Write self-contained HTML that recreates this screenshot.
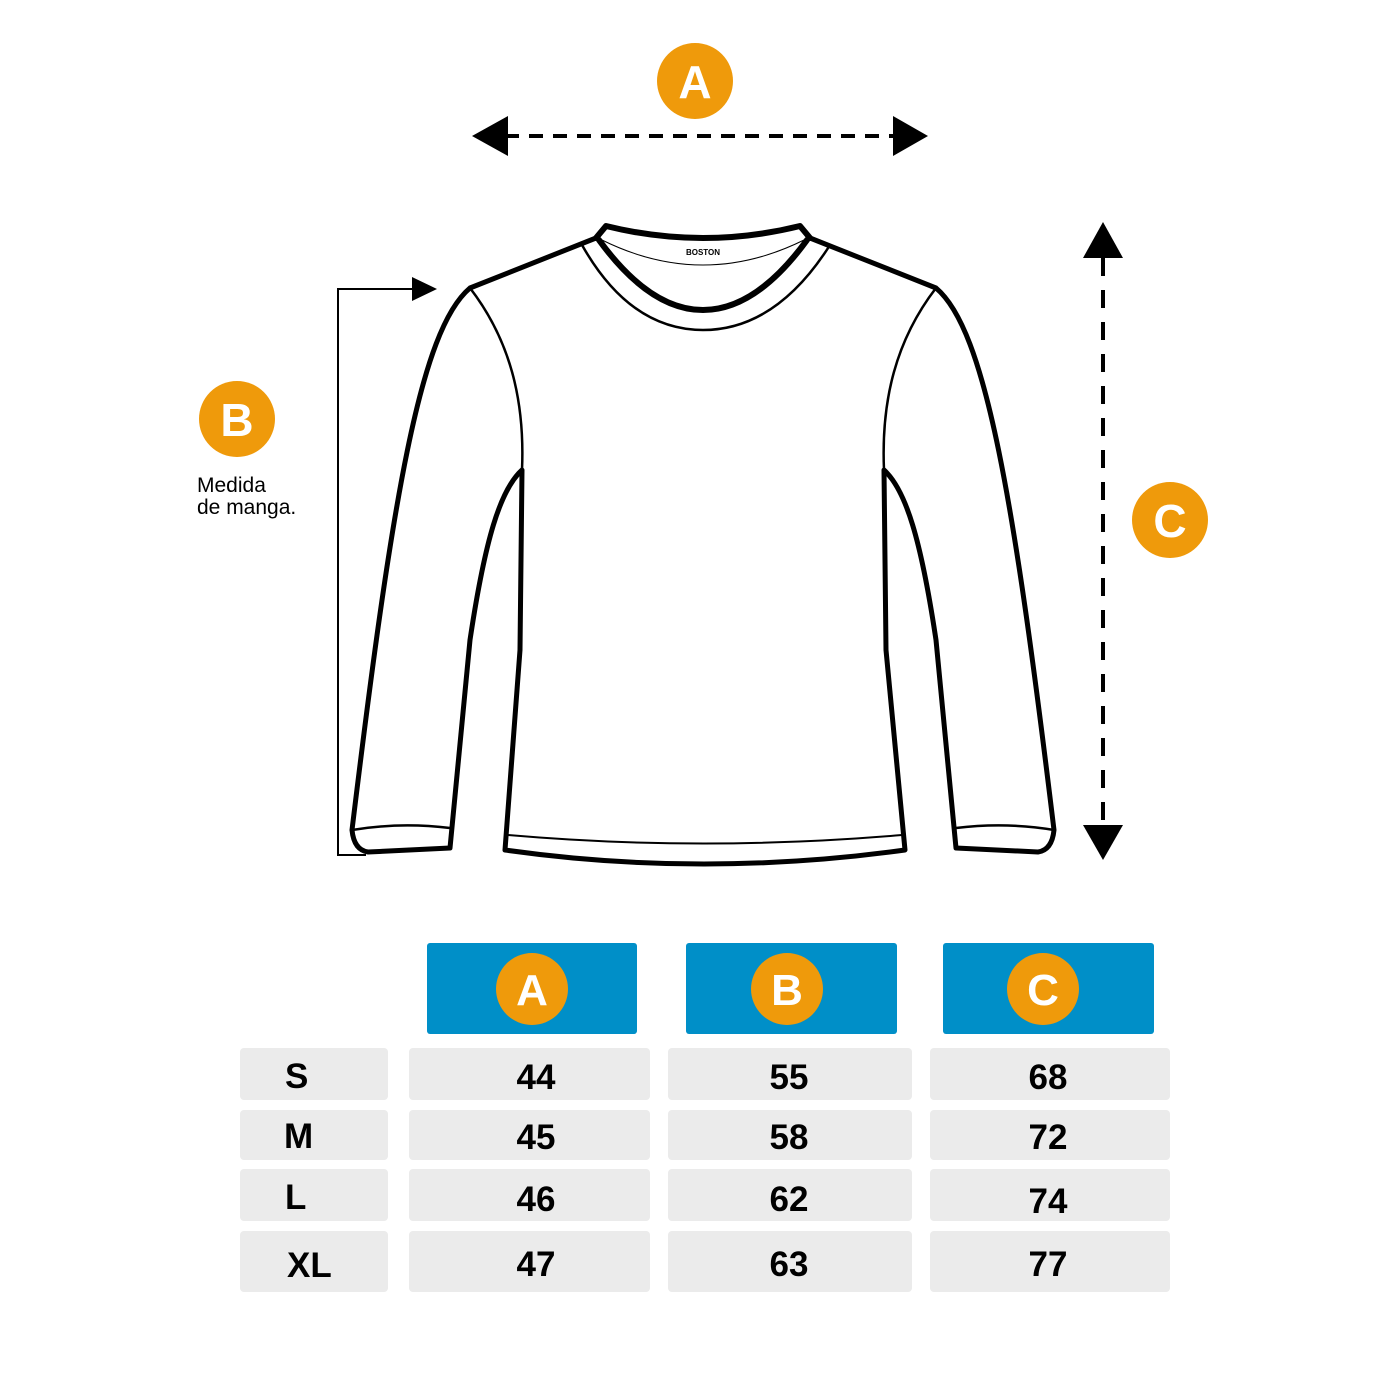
<!DOCTYPE html>
<html><head><meta charset="utf-8"><style>
body{margin:0;background:#fff}
svg{display:block}
text{font-family:"Liberation Sans",sans-serif}
</style></head><body>
<svg width="1389" height="1389" viewBox="0 0 1389 1389">
<rect width="1389" height="1389" fill="#fff"/>
<!-- A arrow -->
<line x1="505" y1="136" x2="895" y2="136" stroke="#000" stroke-width="4" stroke-dasharray="14,10"/>
<polygon points="472,136 508,116 508,156" fill="#000"/>
<polygon points="928,136 893,116 893,156" fill="#000"/>
<!-- C arrow -->
<line x1="1103" y1="258" x2="1103" y2="825" stroke="#000" stroke-width="4" stroke-dasharray="18,14"/>
<polygon points="1103,222 1083,258 1123,258" fill="#000"/>
<polygon points="1103,860 1083,825 1123,825" fill="#000"/>
<!-- B bracket -->
<polyline points="412,289 338,289 338,855 366,855" fill="none" stroke="#000" stroke-width="2"/>
<polygon points="437,289 412,277 412,301" fill="#000"/>
<!-- circles -->
<g font-weight="bold" font-size="46" fill="#fff" text-anchor="middle">
<circle cx="695" cy="81" r="38" fill="#ef9a0b"/><text x="695" y="98">A</text>
<circle cx="237" cy="419" r="38" fill="#ef9a0b"/><text x="237" y="436">B</text>
<circle cx="1170" cy="520" r="38" fill="#ef9a0b"/><text x="1170" y="537">C</text>
</g>
<text x="197" y="492" font-size="21">Medida</text>
<text x="197" y="514" font-size="21">de manga.</text>
<!-- shirt -->
<g fill="none" stroke="#000" stroke-linejoin="round" stroke-linecap="round">
<path d="M596,238 L470,288 C420,330 392,500 352,830 Q354,850 368,852 L450,848 L470,640 C485,540 500,490 522,470 L520,650 L505,850 Q703,878 905,850 L886,650 L884,470 C906,490 921,540 936,640 L956,848 L1038,852 Q1052,850 1054,830 C1014,500 986,330 936,288 L810,238" stroke-width="5"/>
<path d="M596,238 L606,226 Q703,250 800,226 L810,238" stroke-width="6"/>
<path d="M599,240 Q650,310 703,310 Q756,310 807,240" stroke-width="6"/>
<path d="M582,245 Q630,330 703,330 Q776,330 830,245" stroke-width="2.5"/>
<path d="M602,240 Q703,290 804,240" stroke-width="1"/>
<path d="M470,288 C510,340 525,400 522,470" stroke-width="2.5"/>
<path d="M936,288 C896,340 881,400 884,470" stroke-width="2.5"/>
<path d="M352,830 Q400,822 450,828" stroke-width="2.5"/>
<path d="M1054,830 Q1006,822 956,828" stroke-width="2.5"/>
<path d="M508,835 Q703,852 902,835" stroke-width="2"/>
</g>
<text x="703" y="255" font-size="8" font-weight="bold" text-anchor="middle">BOSTON</text>
<!-- table headers -->
<rect x="427" y="943" width="210" height="91" rx="3" fill="#008fc8"/>
<rect x="686" y="943" width="211" height="91" rx="3" fill="#008fc8"/>
<rect x="943" y="943" width="211" height="91" rx="3" fill="#008fc8"/>
<g font-weight="bold" font-size="44" fill="#fff" text-anchor="middle">
<circle cx="532" cy="989" r="36" fill="#ef9a0b"/><text x="532" y="1005">A</text>
<circle cx="787" cy="989" r="36" fill="#ef9a0b"/><text x="787" y="1005">B</text>
<circle cx="1043" cy="989" r="36" fill="#ef9a0b"/><text x="1043" y="1005">C</text>
</g>
<g fill="#ebebeb">
<rect x="240" y="1048" width="148" height="52" rx="4"/><rect x="409" y="1048" width="241" height="52" rx="4"/><rect x="668" y="1048" width="244" height="52" rx="4"/><rect x="930" y="1048" width="240" height="52" rx="4"/>
<rect x="240" y="1110" width="148" height="50" rx="4"/><rect x="409" y="1110" width="241" height="50" rx="4"/><rect x="668" y="1110" width="244" height="50" rx="4"/><rect x="930" y="1110" width="240" height="50" rx="4"/>
<rect x="240" y="1169" width="148" height="52" rx="4"/><rect x="409" y="1169" width="241" height="52" rx="4"/><rect x="668" y="1169" width="244" height="52" rx="4"/><rect x="930" y="1169" width="240" height="52" rx="4"/>
<rect x="240" y="1231" width="148" height="61" rx="4"/><rect x="409" y="1231" width="241" height="61" rx="4"/><rect x="668" y="1231" width="244" height="61" rx="4"/><rect x="930" y="1231" width="240" height="61" rx="4"/>
</g>
<g font-weight="bold" font-size="35" fill="#000">
<text x="285" y="1088">S</text><text x="284" y="1148">M</text><text x="285" y="1209">L</text><text x="287" y="1277">XL</text>
</g>
<g font-weight="bold" font-size="35" fill="#000" text-anchor="middle">
<text x="536" y="1089">44</text><text x="789" y="1089">55</text><text x="1048" y="1089">68</text>
<text x="536" y="1149">45</text><text x="789" y="1149">58</text><text x="1048" y="1149">72</text>
<text x="536" y="1211">46</text><text x="789" y="1211">62</text><text x="1048" y="1213">74</text>
<text x="536" y="1276">47</text><text x="789" y="1276">63</text><text x="1048" y="1276">77</text>
</g>
</svg>
</body></html>
